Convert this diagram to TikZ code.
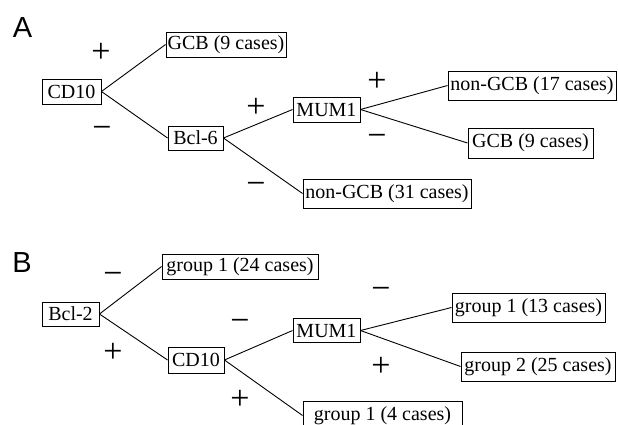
\documentclass[tikz,border=0pt]{standalone}
\usepackage{fontspec}
\setmainfont{Liberation Serif}
\newfontfamily\panelfont{Liberation Sans}
\begin{document}
\begin{tikzpicture}[x=1pt,y=-1pt,
  box/.style={draw,line width=0.9pt,inner sep=0pt,font=\fontsize{20}{23}\selectfont},
  sign/.style={inner sep=0pt,font=\fontsize{34}{36}\selectfont},
  panel/.style={inner sep=0pt,font=\panelfont\fontsize{29}{31}\selectfont},
  conn/.style={line width=0.9pt}]
\useasboundingbox (0,0) rectangle (618,425);
\begin{scope}
\clip (0,0) rectangle (618,425);
% Panel A
\node[panel] (la) at (22.5,27.5) {A};
\node[box,minimum width=59pt,minimum height=25pt] (cdA) at (71.5,91.5) {CD10};
\node[box,minimum width=120pt,minimum height=25pt] (gcbA1) at (226,44.5) {GCB (9 cases)};
\node[box,minimum width=55pt,minimum height=24pt] (bcl6) at (195.5,138) {Bcl-6};
\node[box,minimum width=67pt,minimum height=25pt] (mumA) at (326.5,109.5) {MUM1};
\node[box,minimum width=168pt,minimum height=29pt] (ngcb17) at (532,85.5) {non-GCB (17 cases)};
\node[box,minimum width=125pt,minimum height=30pt] (gcbA2) at (530.5,143) {GCB (9 cases)};
\node[box,minimum width=168pt,minimum height=29pt] (ngcb31) at (387,193.5) {non-GCB (31 cases)};
\draw[conn] (cdA.east) -- (gcbA1.west);
\draw[conn] (cdA.east) -- (bcl6.west);
\draw[conn] (bcl6.east) -- (mumA.west);
\draw[conn] (bcl6.east) -- (ngcb31.west);
\draw[conn] (mumA.east) -- (ngcb17.west);
\draw[conn] (mumA.east) -- (gcbA2.west);
\node[sign] (sa1) at (101,53) {+};
\node[sign] (sa2) at (102,132) {−};
\node[sign] (sa3) at (256,108) {+};
\node[sign] (sa4) at (256,188) {−};
\node[sign] (sa5) at (377,82) {+};
\node[sign] (sa6) at (377,140) {−};
% Panel B
\node[panel] (lb) at (22,262.5) {B};
\node[box,minimum width=57pt,minimum height=24pt] (bcl2) at (70.5,314) {Bcl-2};
\node[box,minimum width=156pt,minimum height=25pt] (g24) at (240,266.5) {group 1 (24 cases)};
\node[box,minimum width=56pt,minimum height=26pt] (cdB) at (196,360) {CD10};
\node[box,minimum width=67pt,minimum height=24pt] (mumB) at (326.5,330.5) {MUM1};
\node[box,minimum width=153pt,minimum height=29pt] (g13) at (528.5,307.5) {group 1 (13 cases)};
\node[box,minimum width=154pt,minimum height=29pt] (g25) at (538,366.5) {group 2 (25 cases)};
\node[box,minimum width=159pt,minimum height=29pt] (g4) at (382.5,415.5) {group 1 (4 cases)};
\draw[conn] (bcl2.east) -- (g24.west);
\draw[conn] (bcl2.east) -- (cdB.west);
\draw[conn] (cdB.east) -- (mumB.west);
\draw[conn] (cdB.east) -- (g4.west);
\draw[conn] (mumB.east) -- (g13.west);
\draw[conn] (mumB.east) -- (g25.west);
\node[sign] (sb1) at (113,278) {−};
\node[sign] (sb2) at (113,353) {+};
\node[sign] (sb3) at (240,325) {−};
\node[sign] (sb4) at (240,400) {+};
\node[sign] (sb5) at (381,293) {−};
\node[sign] (sb6) at (381,367) {+};
\end{scope}
\end{tikzpicture}
\end{document}
